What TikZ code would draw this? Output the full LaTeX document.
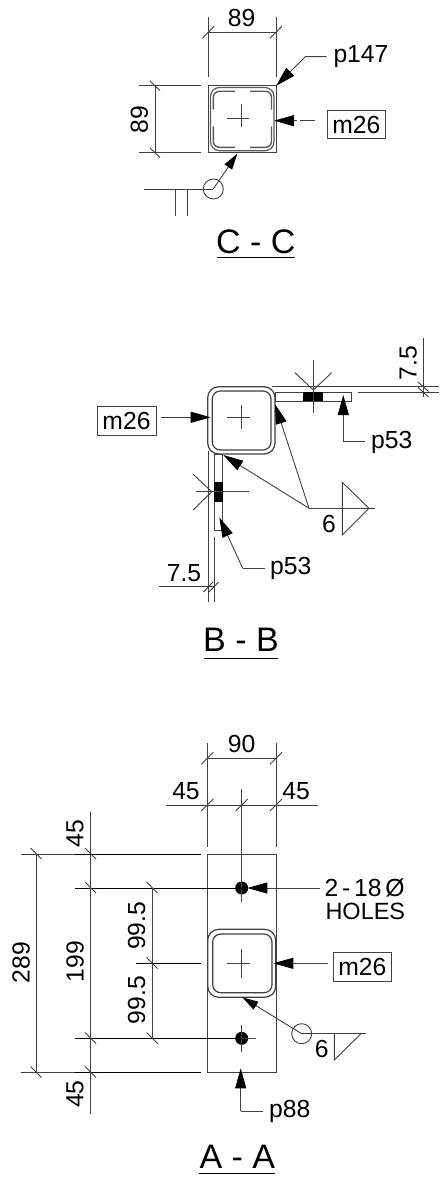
\documentclass[tikz,border=0pt]{standalone}
\usepackage{fontspec}
\setmainfont{Liberation Sans}
\usetikzlibrary{arrows.meta}
\definecolor{thin}{gray}{0.25}
\tikzset{
  ln/.style={draw=thin,line width=0.9pt},
  blk/.style={draw=black,line width=1pt},
  arr/.style={ln,-{Triangle[length=20pt,width=11pt,black]}},
  arrs/.style={ln,-{Triangle[length=16pt,width=9pt,black]}},
  txt/.style={inner sep=0pt,font=\fontsize{24.7}{24.7}\selectfont},
  title/.style={inner sep=0pt,font=\fontsize{34}{34}\selectfont},
  lab/.style={txt,anchor=west},
  tag/.style={draw=thin,line width=0.9pt,inner sep=0pt,font=\fontsize{24.7}{24.7}\selectfont},
  tube/.style={draw=thin,line width=1.2pt,rounded corners=#1},
  tick/.pic={\draw[ln] (-6,6)--(6,-6);},
}
\begin{document}
\begin{tikzpicture}[x=1pt,y=-1pt]
\useasboundingbox (0,0) rectangle (445,1180);
% ---------- C - C
\draw[ln] (208.3,85.7) rectangle (276,152.7);
\draw[tube=9pt,draw=gray!70!black] (210.5,87.5) rectangle (274,150.7);
\draw[tube=6pt,draw=gray!70!black,line width=1.4pt]
  (213.3,109.7)|-(235,91.3) (250,91.3)-|(271.5,109.7)
  (271.5,126.3)|-(250,147.3) (235,147.3)-|(213.3,126.3);
\draw[ln] (241.5,104.3)--(241.5,126.7) (227.3,118.3)--(249.3,118.3);
\draw[ln] (208.3,16.7)--(208.3,77.3) (276,16.7)--(276,77.3) (208.3,32.3)--(276,32.3);
\draw (208.3,32.3) pic{tick} (276,32.3) pic{tick};
\node[txt] (t1) at (241.7,17.5) {89};
\draw[ln] (139,85.7)--(200.7,85.7) (139,152.7)--(200.7,152.7) (155,85.7)--(155,152.7);
\draw[ln] (150,81)--(160,90.5) (150,148)--(160,157.5);
\node[txt,rotate=90] (t2) at (139.3,119.3) {89};
\draw[arr] (326.7,56.7)--(305.3,56.7)--(276,86);
\node[lab] (t3) at (333.3,57) {p147};
\node[tag,minimum width=58.7pt,minimum height=28.4pt] (m1) at (356.4,124.5) {m26};
\draw[ln] (315,120.7)--(300,120.7);
\draw[arr] (296.7,120.7)--(274,120.7);
\draw[ln] (144,189)--(213.3,189) (175.7,189)--(175.7,215.7) (187.7,189)--(187.7,215.7);
\draw[ln] (213.3,189) circle (10);
\draw[arrs] (213.3,189)--(237.3,153.7);
\node[title] (t4) at (255.7,241.7) {C - C};
\draw[blk] (216.7,257)--(295.3,257);
% ---------- B - B
\draw[tube=11pt] (207.7,386.7) rectangle (275,454);
\draw[tube=8pt] (212.3,391) rectangle (271,450);
\draw[ln] (241.7,405)--(241.7,428.5) (227.3,417)--(250,417);
\draw[ln] (275,392.3) rectangle (351.7,401.3);
\fill[black] (303.3,392.3) rectangle (323.3,401.3);
\draw[ln] (271.7,386.7)--(439,386.7) (358.3,392.3)--(439,392.3);
\draw[ln] (423.3,338.3)--(423.3,396.7);
\draw[ln] (418,382)--(428.5,391.5) (418,387.5)--(428.5,397);
\node[txt,rotate=90] (t5) at (408.3,363.3) {7.5};
\draw[ln] (313.3,360)--(313.3,413);
\draw[ln] (295,372.7)--(313.3,390)--(331.7,372.7);
\draw[arr] (343.3,441.7)--(343.3,395);
\draw[ln] (343.3,441.7)--(365,441.7);
\node[lab] (t6) at (371,442) {p53};
\node[tag,minimum width=59pt,minimum height=28.3pt] (m2) at (126.5,420.8) {m26};
\draw[arr] (160.7,417.3)--(210.7,417.3);
\draw[ln] (214,454) rectangle (222.7,530);
\fill[black] (214,481.7) rectangle (222.7,502.3);
\draw[ln] (208.3,451)--(208.3,601.7) (214,537.3)--(214,601.7);
\draw[ln] (196,491.7)--(249.3,491.7);
\draw[ln] (193.3,474.3)--(211.7,491.7)--(193.3,510);
\draw[arr] (242.7,568.3)--(219.3,517.3);
\draw[ln] (242.7,568.3)--(265,568.3);
\node[lab] (t7) at (270,568) {p53};
\draw[ln] (159,586.7)--(214,586.7);
\draw[ln] (203.5,592)--(213,582) (209,592)--(218.5,582);
\node[txt] (t8) at (184,572.7) {7.5};
\draw[arr] (309,508.3)--(223.3,455);
\draw[arr] (309,508.3)--(275,404);
\draw[ln] (309,508.3)--(375,508.3);
\draw[ln] (342.3,482.3)--(369,508.3)--(342.3,535)--cycle;
\node[txt] (t9) at (329,524.3) {6};
\node[title] (t10) at (241,640) {B - B};
\draw[blk] (204,658.3)--(277.7,658.3);
% ---------- A - A
\draw[ln] (207.3,854) rectangle (276,1072.3);
\draw[tube=11pt,fill=white] (207.7,929.3) rectangle (275.7,997.3);
\draw[tube=8pt] (212.7,934) rectangle (272,992.7);
\draw[ln] (241,949)--(241,978) (226.7,963.3)--(250,963.3);
\fill (241.7,888) circle (6.5) (241.7,1038.3) circle (6.5);
\draw[ln] (241.7,789.3)--(241.7,901.7);
\draw[ln] (241.7,1025)--(241.7,1051.7) (241.7,1038.3)--(255.7,1038.3);
\draw[blk] (75,888)--(241.7,888) (75,1038.3)--(241.7,1038.3);
\draw[arr] (320,888)--(247.3,888);
\node[lab] (t11) at (324.3,887.7) {2\kern3.8pt-\kern3.8pt18\kern3.8pt Ø};
\node[lab,font=\fontsize{23.5}{23.5}\selectfont] (t12) at (325.3,911.7) {HOLES};
\node[tag,minimum width=58.7pt,minimum height=28.3pt] (m3) at (362.3,966.8) {m26};
\draw[arr] (328.3,963.3)--(273.3,963.3);
\draw[ln] (301.7,1033.7) circle (10);
\draw[arrs] (301.7,1033.7)--(242.3,997.3);
\draw[ln] (301.7,1033.7)--(366,1033.7);
\draw[ln] (334.3,1033.7)--(334.3,1060)--(361,1033.7);
\node[txt] (t13) at (321.7,1049.3) {6};
\draw[arr] (240.7,1111)--(240.7,1068.3);
\draw[ln] (240.7,1111)--(262.7,1111);
\node[lab] (t14) at (269,1111) {p88};
\node[title] (t15) at (237.3,1157) {A - A};
\draw[blk] (199.3,1173.3)--(275,1173.3);
% dims top
\draw[ln] (207.3,743.3)--(207.3,846.7) (276,743.3)--(276,846.7) (207.3,758.3)--(276,758.3);
\draw (207.3,758.3) pic{tick} (276,758.3) pic{tick};
\node[txt] (t16) at (241.7,744) {90};
\draw[ln] (165.7,805)--(318.3,805);
\draw (207.3,805) pic{tick} (241.7,805) pic{tick} (276,805) pic{tick};
\node[txt] (t17) at (186,790.7) {45};
\node[txt] (t18) at (296,790.7) {45};
% dims left
\draw[ln] (90.7,812.3)--(90.7,1114.3) (36,854)--(36,1072.3) (152,888)--(152,1038.3);
\draw[blk] (75,854)--(200.7,854) (75,1072.3)--(200.7,1072.3);
\draw[ln] (20.7,854)--(75,854) (20.7,1072.3)--(75,1072.3);
\draw[blk] (136,963.3)--(200.7,963.3);
\draw[ln] (85,848)--(96,859) (85,882)--(96,893) (85,1032.5)--(96,1043.5) (85,1066.5)--(96,1077.5)
 (30.5,848)--(41.5,859) (30.5,1066.5)--(41.5,1077.5)
 (146.5,882)--(157.5,893) (146.5,957.5)--(157.5,968.5) (146.5,1032.5)--(157.5,1043.5);
\node[txt,rotate=90] (t19) at (75,833.3) {45};
\node[txt,rotate=90] (t20) at (75,1094) {45};
\node[txt,rotate=90] (t21) at (75,961.7) {199};
\node[txt,rotate=90] (t22) at (21,962.7) {289};
\node[txt,rotate=90] (t23) at (136.7,925.7) {99.5};
\node[txt,rotate=90] (t24) at (136.7,1000) {99.5};
\end{tikzpicture}
\end{document}
